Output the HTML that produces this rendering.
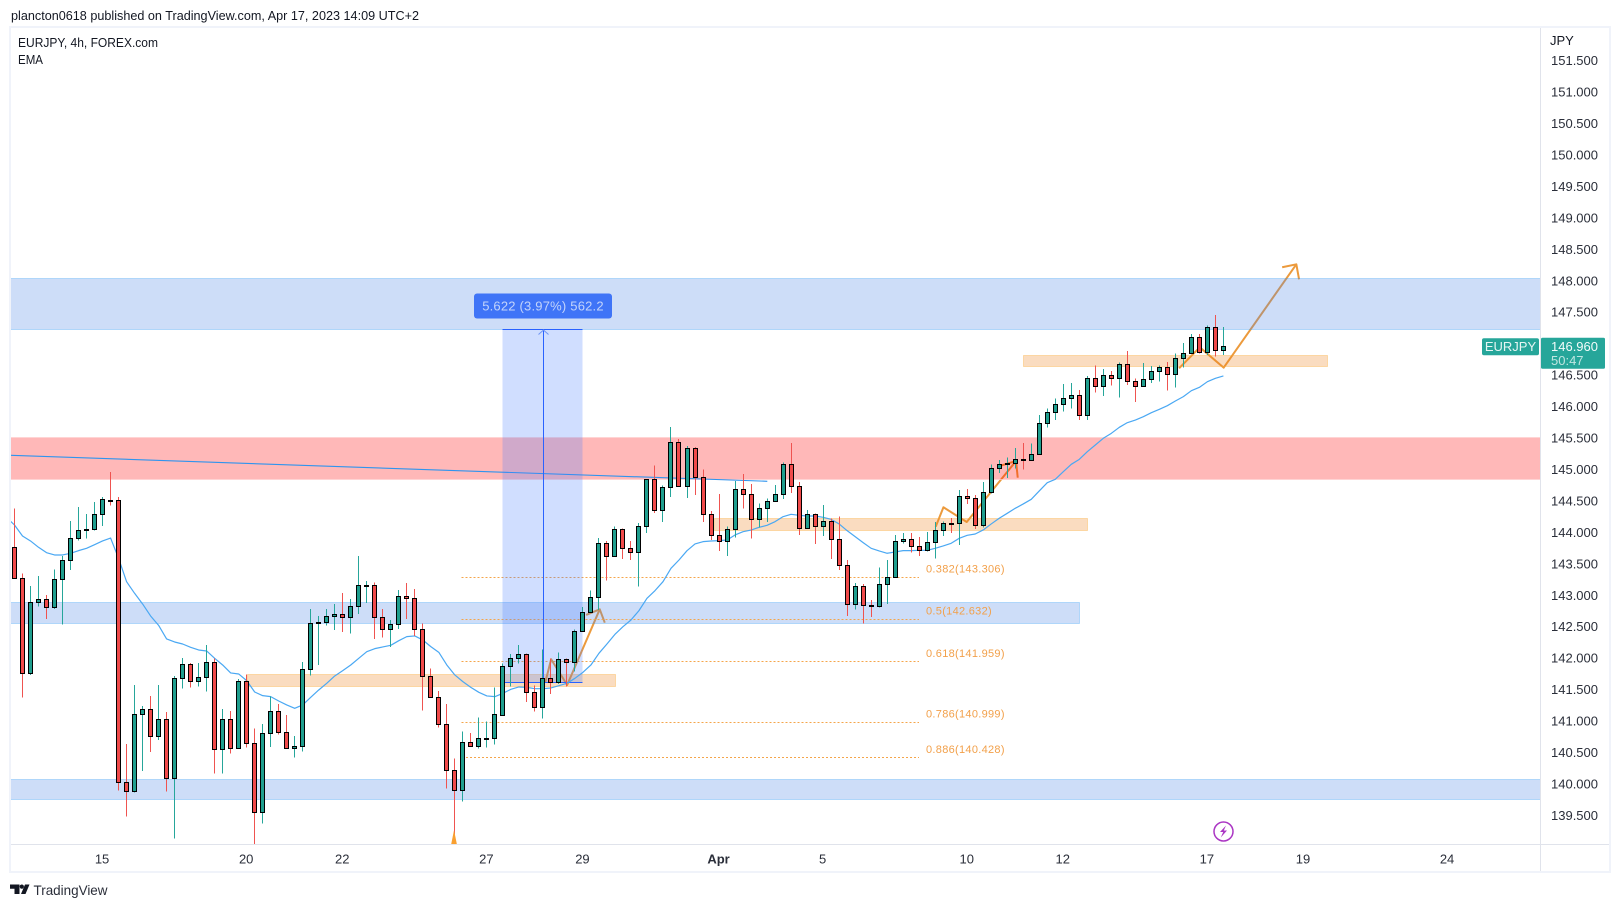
<!DOCTYPE html>
<html lang="en">
<head>
<meta charset="utf-8">
<title>EURJPY 4h chart</title>
<style>
html,body{margin:0;padding:0;background:#fff;width:1620px;height:907px;overflow:hidden}
svg{display:block;font-family:"Liberation Sans",sans-serif}
</style>
</head>
<body>
<svg id="chart" xmlns="http://www.w3.org/2000/svg" width="1620" height="907" viewBox="0 0 1620 907">
  <defs><clipPath id="pane-clip"><rect x="11" y="28" width="1529" height="816"/></clipPath></defs>
  <rect x="0" y="0" width="1620" height="907" fill="#fff"/>
  <text x="11" y="20" font-size="13" fill="#131722" textLength="408" lengthAdjust="spacingAndGlyphs">plancton0618 published on TradingView.com, Apr 17, 2023 14:09 UTC+2</text>
  <g id="pane" clip-path="url(#pane-clip)"></g>
  <rect x="10" y="27" width="1600" height="845" fill="none" stroke="#f0f3fa" stroke-width="2"/>
  <line x1="1540.5" y1="28" x2="1540.5" y2="871" stroke="#e0e3eb"/>
  <line x1="11" y1="844.5" x2="1609" y2="844.5" stroke="#e0e3eb"/>
  <text x="18" y="47" font-size="13" fill="#131722" textLength="140" lengthAdjust="spacingAndGlyphs">EURJPY, 4h, FOREX.com</text>
  <text x="18" y="64" font-size="13" fill="#131722" textLength="25" lengthAdjust="spacingAndGlyphs">EMA</text>
  <text x="1550" y="45" font-size="13" fill="#131722">JPY</text>
  <g id="price-axis"></g>
  <g id="time-axis"></g>
  <g>
    <circle cx="1223.5" cy="831.5" r="9.5" fill="#fff" stroke="#ab36c4" stroke-width="1.5"/>
    <path d="M1226 825.5l-6 6.5h3.2l-2.4 5.5 6.2-7h-3.2z" fill="#ab36c4"/>
  </g>
  <g fill="#131722">
    <path d="M10 884.5h9.5v9.5h-5v-5.2h-4.5z"/>
    <circle cx="21.8" cy="886.6" r="2.1"/>
    <path d="M25 884.5h4.5l-4 9.5h-4.5z"/>
    <text x="33.5" y="895" font-size="14" fill="#2a2e39" textLength="74" lengthAdjust="spacingAndGlyphs">TradingView</text>
  </g>
</svg>
<script>
// ===== Chart data =====
const opens = [143.760,143.266,141.755,142.885,142.943,142.805,143.251,143.553,143.903,144.036,
144.046,144.285,144.518,144.508,140.020,139.887,141.102,141.182,140.752,141.022,
140.083,141.675,141.898,141.627,141.691,141.930,140.545,141.022,140.561,141.627,
140.640,139.542,140.800,141.150,140.815,140.561,140.593,141.818,142.550,142.566,
142.662,142.694,142.646,142.821,143.150,143.155,142.646,142.455,142.534,142.980,
142.948,142.455,141.717,141.372,140.943,140.210,139.892,140.656,140.603,140.714,
140.720,141.096,141.866,141.993,142.057,141.452,141.213,141.675,141.611,141.977,
141.929,142.423,142.725,142.964,143.823,143.616,144.046,143.744,143.680,144.094,
144.842,144.348,144.714,145.431,144.730,145.335,144.874,144.285,143.950,143.855,
144.046,144.683,144.603,144.205,144.380,144.492,144.603,145.080,144.730,144.062,
144.295,144.094,144.173,143.888,143.474,142.853,143.140,142.837,142.821,143.171,
143.283,143.856,143.888,143.776,143.712,143.840,144.031,144.142,144.142,144.572,
144.540,144.110,144.636,145.018,145.086,145.097,145.166,145.155,145.240,145.733,
145.908,146.036,146.131,146.179,145.861,146.449,146.333,146.497,146.449,146.672,
146.402,146.333,146.434,146.561,146.625,146.513,146.768,146.847,147.102,146.863,
147.261,146.895];
const highs = [144.380,143.346,143.144,143.304,143.001,143.410,143.622,144.179,144.402,144.290,
144.481,144.561,144.959,144.561,140.630,141.569,141.235,141.394,141.569,141.139,
141.712,141.999,141.919,141.919,142.205,141.993,141.187,141.155,141.664,141.739,
140.879,140.948,141.388,141.266,141.091,140.757,141.935,142.778,142.667,142.778,
142.858,143.033,142.938,143.622,143.224,143.203,142.778,142.603,143.081,143.192,
143.097,142.550,141.834,141.473,141.266,140.401,140.831,140.805,141.054,140.990,
141.531,141.913,142.062,142.205,142.073,141.563,142.136,141.993,142.088,141.993,
142.455,142.810,143.075,143.908,143.860,144.094,144.060,143.860,144.147,144.847,
145.065,144.746,145.675,145.484,145.372,145.356,145.001,144.338,144.608,144.088,
144.815,144.927,144.767,144.460,144.539,144.752,145.112,145.420,144.799,144.354,
144.301,144.433,144.221,144.254,143.559,143.193,143.177,142.922,143.442,143.559,
143.957,143.988,143.988,143.925,144.004,144.163,144.174,144.227,144.673,144.689,
144.593,144.800,145.081,145.150,145.193,145.341,145.421,145.415,145.866,145.972,
146.131,146.359,146.375,146.264,146.487,146.656,146.598,146.566,146.704,146.884,
146.449,146.694,146.646,146.656,146.709,146.847,147.012,147.155,147.155,147.293,
147.457,147.266];
const lows = [143.266,141.367,141.728,142.816,142.619,142.778,142.529,143.399,143.866,143.898,
144.025,144.099,144.423,139.887,139.473,139.855,140.200,140.503,140.694,139.871,
139.123,141.511,141.526,141.542,141.463,140.158,140.158,140.476,140.561,140.572,
139.038,139.362,140.582,140.778,140.561,140.412,140.508,141.717,141.887,142.513,
142.444,142.412,142.386,142.699,142.874,142.301,142.327,142.174,142.460,142.619,
142.349,141.160,141.372,140.890,139.919,139.030,139.712,140.587,140.555,140.571,
140.619,141.075,141.542,141.908,141.298,141.144,141.033,141.425,141.584,141.542,
141.781,142.412,142.725,142.762,143.229,143.616,143.574,143.558,143.134,143.988,
144.306,144.163,144.561,144.730,144.545,144.592,144.163,143.876,143.701,143.622,
143.919,144.375,143.897,144.078,144.163,144.492,144.529,144.624,143.956,144.062,
143.813,143.940,143.574,143.399,142.667,142.768,142.551,142.651,142.805,142.858,
143.277,143.819,143.675,143.622,143.691,143.580,143.941,143.988,143.797,144.450,
144.052,144.073,144.620,144.943,144.864,145.018,144.996,145.155,145.240,145.664,
145.786,145.919,145.967,145.786,145.786,146.221,146.168,146.333,146.142,146.343,
146.073,146.333,146.375,146.396,146.253,146.301,146.619,146.837,146.842,146.821,
146.794,146.821];
const closes = [143.266,141.755,142.885,142.943,142.805,143.251,143.553,143.903,144.030,144.046,
144.285,144.524,144.508,140.020,139.887,141.102,141.182,140.752,141.022,140.083,
141.675,141.898,141.627,141.691,141.930,140.545,141.022,140.561,141.627,140.640,
139.542,140.800,141.150,140.815,140.561,140.593,141.818,142.550,142.566,142.662,
142.694,142.646,142.821,143.155,143.155,142.646,142.455,142.534,142.980,142.948,
142.455,141.717,141.372,140.943,140.210,139.892,140.656,140.603,140.720,140.720,
141.102,141.866,141.993,142.057,141.452,141.213,141.675,141.611,141.977,141.929,
142.423,142.725,142.964,143.823,143.616,144.046,143.744,143.680,144.094,144.842,
144.348,144.714,145.431,144.730,145.335,144.874,144.285,143.950,143.855,144.046,
144.683,144.603,144.205,144.380,144.492,144.603,145.080,144.730,144.062,144.295,
144.094,144.173,143.887,143.474,142.853,143.140,142.837,142.821,143.171,143.283,
143.856,143.888,143.776,143.712,143.840,144.031,144.142,144.137,144.572,144.540,
144.110,144.636,145.018,145.081,145.097,145.161,145.161,145.240,145.733,145.908,
146.036,146.131,146.179,145.861,146.449,146.333,146.497,146.449,146.672,146.402,
146.333,146.434,146.561,146.625,146.513,146.768,146.847,147.102,146.863,147.261,
146.895,146.960];
// EMA starts one bar before the first visible candle
const emaValues = [144.237,144.115,143.940,143.861,143.760,143.675,143.638,143.638,143.664,143.707,143.744,
143.802,143.861,143.908,143.585,143.213,143.028,142.858,142.667,142.518,142.301,
142.253,142.221,142.168,142.126,142.110,141.993,141.887,141.760,141.744,141.638,
141.457,141.399,141.383,141.314,141.251,141.197,141.251,141.373,141.489,141.595,
141.712,141.797,141.887,141.993,142.099,142.147,142.174,142.200,142.274,142.338,
142.349,142.285,142.179,142.088,141.887,141.728,141.622,141.531,141.452,141.394,
141.383,141.436,141.500,141.537,141.531,141.510,141.510,141.521,141.558,141.595,
141.675,141.770,141.887,142.073,142.221,142.375,142.497,142.603,142.752,142.948,
143.070,143.213,143.425,143.558,143.706,143.813,143.850,143.860,143.866,143.876,
143.956,144.009,144.035,144.078,144.110,144.168,144.248,144.285,144.269,144.258,
144.258,144.237,144.205,144.132,144.025,143.930,143.835,143.744,143.702,143.665,
143.686,143.707,143.707,143.712,143.712,143.744,143.781,143.824,143.903,143.951,
143.972,144.036,144.132,144.222,144.301,144.381,144.450,144.524,144.657,144.789,
144.842,144.964,145.081,145.160,145.282,145.388,145.495,145.574,145.670,145.744,
145.786,145.839,145.903,145.956,146.014,146.089,146.158,146.253,146.306,146.396,
146.449,146.487];
const priceTicks = [151.5,151,150.5,150,149.5,149,148.5,148,147.5,147,146.5,146,145.5,145,144.5,144,143.5,143,142.5,142,141.5,141,140.5,140,139.5];
const priceTickLabels = ["151.500","151.000","150.500","150.000","149.500","149.000","148.500","148.000","147.500","","146.500","146.000","145.500","145.000","144.500","144.000","143.500","143.000","142.500","142.000","141.500","141.000","140.500","140.000","139.500"];
const dateLabels = ["15","20","22","27","29","Apr","5","10","12","17","19","24"];
const dateBars = [11,29,41,59,71,88,101,119,131,149,161,179];
const fibRatios = ["0.382","0.5","0.618","0.786","0.886"];
const fibPrices = [143.306,142.632,141.959,140.999,140.428];
const zoneNames = ["resistance-zone-top","resistance-zone-red","support-zone-mid","support-zone-bottom","orange-zone-1","orange-zone-2","orange-zone-3"];
const zoneHigh = [148.041,145.510,142.885,140.067,141.739,144.220,146.816];
const zoneLow = [147.230,144.842,142.550,139.749,141.557,144.040,146.650];
const zoneStartBar = [-2,-2,-2,-2,28.98,87.31,125.95];
const zoneEndBar = [200,200,132.95,200,75.0,133.95,163.9];
const zoneKinds = ["blue","red","blue","blue","orange","orange","orange"];
const pathABars = [66.31,67.03,69.03,73.1];
const pathAPrices = [141.616,141.978,141.568,142.773];
const pathAHeadBars = [71.4,73.1,73.73];
const pathAHeadPrices = [142.683,142.773,142.560];
const pathBBars = [115.06,116.03,118.94,125.1];
const pathBPrices = [144.088,144.397,144.163,145.134];
const pathBHeadBars = [123.19,125.1,125.31];
const pathBHeadPrices = [145.059,145.134,144.868];
const pathCBars = [145.46,148.05,151.03,160.11];
const pathCPrices = [146.609,146.943,146.619,148.264];
const pathCHeadBars = [158.34,160.11,160.45];
const pathCHeadPrices = [148.217,148.264,148.026];
const trendBars = [-0.45,94.03];
const trendPrices = [145.224,144.811];
const measureBars = [61,71];
const measurePrices = [147.235,141.612];

// ===== Axis functions =====
const PXU = 62.83;
function xOf(bar){ return 14.5 + 8.006 * bar; }
function yOf(price){ return 61 + (151.5 - price) * PXU; }
function crisp(v){ return Math.round(v) + 0.5; }

const NS = 'http://www.w3.org/2000/svg';
function mk(tag, parent, attrs){
  const e = document.createElementNS(NS, tag);
  for (const k in attrs) e.setAttribute(k, attrs[k]);
  parent.appendChild(e);
  return e;
}
const pane = document.getElementById('pane');
const priceAxis = document.getElementById('price-axis');
const timeAxis = document.getElementById('time-axis');

// ----- orange drawn paths (under zones) -----
function drawArrow(bars, prices, hb, hp, name){
  const g = mk('g', pane, {fill:'none', stroke:'#ec9a3c', 'stroke-width':2, 'stroke-linejoin':'round'});
  
  
  const a = mk('polyline', g, {points: bars.map((b,i)=>xOf(b)+','+yOf(prices[i])).join(' ')});
  
  
  const h = mk('polyline', g, {points: hb.map((b,i)=>xOf(b)+','+yOf(hp[i])).join(' ')});
  
  
}
drawArrow(pathABars, pathAPrices, pathAHeadBars, pathAHeadPrices, 'projection-arrow-a');
drawArrow(pathBBars, pathBPrices, pathBHeadBars, pathBHeadPrices, 'projection-arrow-b');
drawArrow(pathCBars, pathCPrices, pathCHeadBars, pathCHeadPrices, 'projection-arrow-c');

// ----- zones -----
const zoneFill = {blue:'rgba(76,134,230,.28)', red:'rgba(255,0,0,.28)', orange:'rgba(237,130,30,.28)'};
const zoneStroke = {blue:'rgba(33,150,243,.28)', red:'rgba(255,210,210,.7)', orange:'rgba(250,170,50,.35)'};
zoneNames.forEach((n,i)=>{
  const top = Math.round(yOf(zoneHigh[i]));
  const bot = Math.round(yOf(zoneLow[i]));
  const l = Math.round(xOf(zoneStartBar[i]));
  const r = Math.round(xOf(zoneEndBar[i]));
  const z = mk('rect', pane, {x:l+.5, y:top+.5, width:r-l, height:bot-top, fill:zoneFill[zoneKinds[i]], stroke:zoneStroke[zoneKinds[i]], 'shape-rendering':'crispEdges'});
  
  
});

// ----- fib lines -----
fibPrices.forEach((p,i)=>{
  const ly = crisp(yOf(p) + 0.8);
  const ln = mk('line', pane, {x1:xOf(i===4?56.4:55.85), x2:xOf(113.0), y1:ly, y2:ly, stroke:'#f5a54a', 'stroke-dasharray':'2 2', 'shape-rendering':'crispEdges'});
  
  
  const t = mk('text', pane, {x:926, y:yOf(p) - 3.5, 'font-size':11, fill:'#f2a04a', 'letter-spacing':'.3'});
  t.textContent = fibRatios[i] + '(' + p.toFixed(3) + ')';
  
  
});

// ----- trend line -----
const trend = mk('line', pane, {x1:xOf(trendBars[0]), y1:yOf(trendPrices[0]), x2:xOf(trendBars[1]), y2:yOf(trendPrices[1]), stroke:'#2f94ee', 'stroke-width':1.1});



// ----- measure box -----
const mx1 = xOf(measureBars[0]) - 0.4, mx2 = xOf(measureBars[1]) - 0.4;
const my1 = crisp(yOf(measurePrices[0])), my2 = crisp(yOf(measurePrices[1]));
const mBox = mk('rect', pane, {x:mx1, y:my1, width:mx2-mx1, height:my2-my1, fill:'rgba(67,123,255,.25)', 'shape-rendering':'crispEdges'});


const mTop = mk('line', pane, {x1:mx1, x2:mx2, y1:my1, y2:my1, stroke:'#2962ff', 'shape-rendering':'crispEdges'});


const mBot = mk('line', pane, {x1:mx1, x2:mx2, y1:my2, y2:my2, stroke:'#2962ff', 'shape-rendering':'crispEdges'});


const mMid = 543.5;
const mV = mk('line', pane, {x1:mMid, x2:mMid, y1:my1, y2:my2, stroke:'#2962ff', 'shape-rendering':'crispEdges'});


const mHead = mk('polyline', pane, {points:(mMid-5)+','+(my1+5)+' '+mMid+','+(my1+0.5)+' '+(mMid+5)+','+(my1+5), fill:'none', stroke:'#6e94f5'});


const mLabelBg = mk('rect', pane, {x:474, y:my1-36, width:138, height:25, rx:3, fill:'#3f74f7'});


const mLabel = mk('text', pane, {x:543, y:my1-19, 'font-size':13, fill:'#c3d4fb', 'text-anchor':'middle', 'letter-spacing':'.2'});
mLabel.textContent = '5.622 (3.97%) 562.2';



// ----- EMA -----
const ema = mk('polyline', pane, {points: emaValues.map((v,i)=>xOf(i-1)+','+yOf(v)).join(' '), fill:'none', stroke:'#4aa8f3', 'stroke-width':1.2, 'stroke-linejoin':'round'});



// ----- candles -----
opens.forEach((o,i)=>{
  const c = closes[i];
  const up = c >= o;
  const g = mk('g', pane, {'shape-rendering':'crispEdges'});
  
  
  const x = Math.floor(xOf(i)) + 0.5;
  const wick = mk('line', g, {x1:x, x2:x, y1:yOf(highs[i]), y2:yOf(lows[i]), stroke: up ? '#26a69a' : '#ef5350'});
  
  
  const t = Math.round(yOf(Math.max(o,c)));
  const b = Math.round(yOf(Math.min(o,c)));
  const body = mk('rect', g, {x:x-2, y:t+.5, width:4, height:Math.max(b-t,1), fill: up ? '#1f9e8e' : '#f04a4a', stroke:'#000'});
  
  
});

// ----- signal arrow at the low -----
const sx = xOf(55) - 0.8;
const sig = mk('polygon', pane, {points:(sx-3)+',845 '+sx+',830 '+(sx+3)+',845', fill:'#f9a030'});



// ----- price axis -----
priceTicks.forEach((p,i)=>{
  if(!priceTickLabels[i]) return;
  const t = mk('text', priceAxis, {x:1551, y:yOf(p)+4.1+(151.5-p)*0.07, 'font-size':13, fill:'#2a2e39'});
  t.textContent = priceTickLabels[i];
  
  
});

// ----- last price labels -----
const lastPrice = closes[closes.length-1];
const ly = yOf(lastPrice);
const symBg = mk('rect', priceAxis, {x:1482, y:ly-8, width:57, height:17, rx:2, fill:'#26a69a'});


const symT = mk('text', priceAxis, {x:1510.5, y:ly+5, 'font-size':13, fill:'#e6f5f3', 'text-anchor':'middle'});
symT.textContent = 'EURJPY';


const lastBg = mk('rect', priceAxis, {x:1541, y:ly-8.5, width:64, height:31, rx:1.5, fill:'#26a69a'});


const lastT = mk('text', priceAxis, {x:1551, y:ly+5, 'font-size':13, fill:'#f2fbfa'});
lastT.textContent = lastPrice.toFixed(3);


const cd = mk('text', priceAxis, {x:1551, y:ly+19, 'font-size':13, fill:'#bfe6e1'});
cd.textContent = '50:47';



// ----- time axis -----
dateLabels.forEach((d,i)=>{
  const t = mk('text', timeAxis, {x:xOf(dateBars[i]) - 0.5, y:863.5, 'font-size':13, fill:'#2a2e39', 'text-anchor':'middle', 'font-weight': d==='Apr' ? '700' : '400'});
  t.textContent = d;
  
  
});
</script>
</body>
</html>
